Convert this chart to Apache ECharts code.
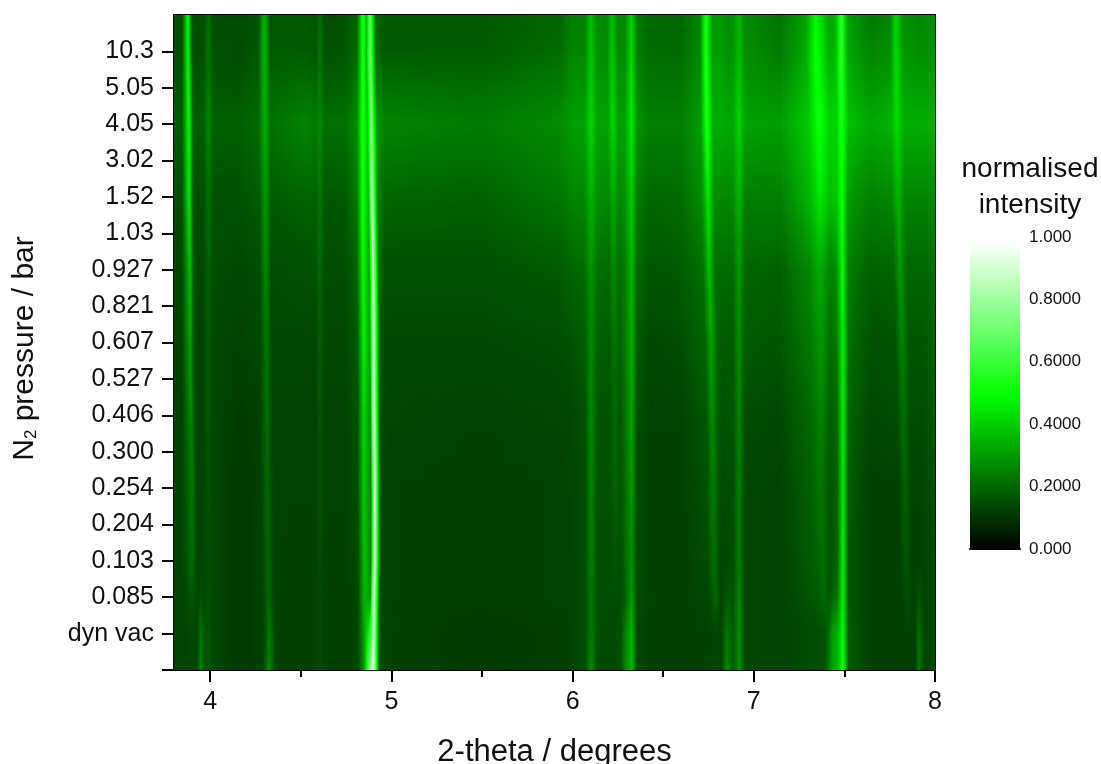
<!DOCTYPE html>
<html><head><meta charset="utf-8">
<style>html,body{margin:0;padding:0;background:#fff}#c{width:1101px;height:764px}</style>
<script src="https://cdn.jsdelivr.net/npm/echarts@6/dist/echarts.min.js"></script>
</head><body><div id="c"></div>
<script>
// Pressure tick labels, bottom to top (first tick is unlabelled)
const pressureLabels = ['', 'dyn vac', '0.085', '0.103', '0.204', '0.254', '0.300', '0.406', '0.527', '0.607', '0.821', '0.927', '1.03', '1.52', '3.02', '4.05', '5.05', '10.3'];
const xMajorTicks = [4, 5, 6, 7, 8];
const xMinorTicks = [4.5, 5.5, 6.5, 7.5];
// Measured rows: position on pressure axis, top to bottom
const rowLevels = [18, 17, 15, 13, 11, 9, 7, 5, 3, 2, 1, 0];
// 2-theta of each profile knot in the top row
const knotTheta = [3.800,3.844,3.877,3.899,3.930,3.948,3.966,3.990,4.015,4.164,
 4.264,4.297,4.330,4.534,4.584,4.606,4.628,4.744,
 4.810,4.843,4.865,4.884,4.915,4.964,
 5.489,5.930,5.996,6.068,6.101,6.134,6.190,6.217,6.250,6.289,6.325,6.355,6.427,6.593,
 6.703,6.736,6.769,6.825,6.852,6.885,6.918,6.951,7.144,
 7.288,7.343,7.415,7.437,7.453,7.484,7.514,7.641,
 7.751,7.784,7.823,7.911,7.944,8.000];
// Peak drift in 2-theta per measured row
const driftA = [0,0,.005,.006,.011,.011,.017,.022,.024,.024,.024,.024];
const driftB = [0,0,.003,.006,.008,.011,.014,.017,.022,.025,.028,.028];
const driftC = [0,0,0,0,0,.003,.003,.003,.006,.006,.006,.006];
const driftD = [-.003,-.003,.003,.008,.014,.017,.019,.022,.022,.019,.017,.017];
const driftE = [0,0,.003,.006,.008,.011,.014,.017,.017,.017,.017,.017];
const driftF = [0,0,.005,.011,.017,.028,.033,.039,.044,.05,.055,.055];
const driftG = [0,0,.017,.022,.022,.028,.028,.028,.039,.044,.05,.05];
const driftH = [0,0,.003,.003,.005,.008,.008,.008,.008,.008,.008,.008];
const driftI = [0,0,.005,.011,.022,.033,.039,.05,.055,.061,.066,.066];
const driftKnots = [[driftA,[2,3]],[driftB,[10,11,12]],[driftC,[18,19]],[driftD,[20,21,22]],[driftE,[30,31,32]],[driftF,[38,39,40]],[driftG,[47,48]],[driftH,[51,52,53]],[driftI,[55,56,57]]];
// Intensity (percent of scale) at each knot, one list per measured row
const row18 = [15,15,50,16,15,15,15,22,15,15, 16,36,17,17,16,22,15,16, 20,56,36,72,20,17, 17,20,25,26,38,27,27,38,26,27,42,24,20,20, 26,55,30,30,28,28,36,27,23, 32,50,32,33,36,60,32,24, 26,42,28,26,27,28];
const row17 = [15,15,50,17,15,15,16,23,16,15, 17,36,18,18,17,23,16,17, 21,56,36,74,22,18, 18,21,26,27,39,28,28,39,27,28,43,25,21,21, 27,56,31,31,29,29,37,28,24, 34,52,34,35,38,60,33,26, 28,43,30,28,28,29];
const row15 = [18,18,50,20,18,19,20,27,19,19, 21,34,22,26,24,27,22,22, 28,56,38,78,30,26, 24,28,31,32,42,32,32,42,31,32,46,29,25,25, 31,56,34,34,33,33,42,32,31, 40,53,42,42,42,56,38,33, 35,44,34,34,34,35];
const row13 = [15,15,46,17,15,15,16,22,16,16, 18,30,18,20,19,24,17,18, 24,54,34,88,26,20, 19,23,26,27,36,28,27,34,26,29,40,25,20,21, 28,46,28,27,27,27,36,25,25, 36,46,38,38,40,52,31,25, 27,36,26,26,26,27];
const row11 = [14,14,38,16,14,14,15,19,15,14, 15,27,15,16,16,20,15,15, 20,50,32,92,22,16, 16,18,20,21,30,22,21,27,21,25,36,21,17,18, 22,38,22,21,21,21,30,20,19, 27,34,26,26,30,50,25,19, 20,30,20,20,20,22];
const row9  = [13,13,32,15,13,13,14,18,14,13, 14,24,14,14,14,18,14,14, 18,48,30,95,20,14, 14,15,16,18,27,19,18,23,19,24,34,18,14,15, 20,32,20,18,18,18,28,18,17, 24,30,22,22,26,48,22,16, 17,26,17,17,17,20];
const row7  = [13,13,27,14,13,13,14,17,14,12, 13,22,13,13,13,17,13,13, 16,42,28,97,18,13.5, 13,13.5,14,16,27,17,17,20,17,22,32,16,13,13, 17,28,18,16,16,16,26,15,14, 21,26,19,19,22,47,20,14, 15,22,15,15,15,18];
const row5  = [13,13,24,14,13,13,14,16,14,11.5, 13,20,13,13,13,16,13,13, 15,40,26,98,17,13, 12.5,13,13.5,15,26,16,16,19,16,21,30,15,12.5,12.5, 16,25,16,15,15,15,25,14,13, 19,23,17,17,20,46,18,12.5, 13,19,13,13,14,16];
const row3  = [13,13,21,14,13,13,14,15,14,11.5, 13,20,13,12.5,13,15,13,12.5, 15,38,26,98,16,13, 12.5,13,13,15,25,15,15,17,15,20,28,15,12.5,12.5, 15,22,14,14,14,15,25,14,13, 18,22,16,17,20,47,17,12.5, 12.5,17,12.5,12.5,13,15];
const row2  = [13,13,17,14,13.5,16,14,16,14,11.5, 13,20,13,12.5,13,14,13,12.5, 14,36,30,98,16,13, 12.5,13,13,15,24,15,15,15,15,18,30,15,13,12.5, 14,20,13,14,17,16,26,14,13, 17,20,17,20,24,47,17,12.5, 12.5,15,12.5,16,13,15];
const row1  = [13,13,14,13.5,15,23,16,17,14,11.5, 13,24,13,12.5,13,14,13,12.5, 14,32,55,95,17,13, 12,12.5,13,15,24,15,14.5,14.5,16,25,36,14,12.5,12.5, 13,13.5,13,15,24,17,28,14,13, 15,16,22,32,35,50,18,12.5, 12.5,13,12.5,22,13,15];
const row0  = [13,13,13,14,16,26,16,17,14,11.5, 13,27,13,12.5,13,14,13,12.5, 14,30,80,95,17,13, 12,12.5,13,15,27,14,14,14,16,26,36,14,12.5,12.5, 13,13,13,15,27,17,28,14,13, 15,16,24,33,35,52,18,12.5, 12.5,13,12.5,24,13,15];
const intensityRows = [row18,row17,row15,row13,row11,row9,row7,row5,row3,row2,row1,row0];
// Colour scale stops (value, colour)
const scaleValues = [0, 0.5, 1];
const scaleColors = ['#000000', '#00ff00', '#ffffff'];
const barTicks = [0, 0.2, 0.4, 0.6, 0.8, 1];

function hex(c){return [1,3,5].map(i=>parseInt(c.substr(i,2),16));}
function colorOf(v){
  v=Math.max(0,Math.min(1,v));
  const k=v<scaleValues[1]?0:1;
  const t=(v-scaleValues[k])/(scaleValues[k+1]-scaleValues[k]);
  const a=hex(scaleColors[k]),b=hex(scaleColors[k+1]);
  return 'rgb('+a.map((x,i)=>Math.round(x+(b[i]-x)*t)).join(',')+')';
}
const rowThetas = rowLevels.map((_,r)=>{
  const t=knotTheta.slice();
  driftKnots.forEach(([d,ks])=>ks.forEach(k=>{t[k]+=d[r];}));
  return t;
});
const FONT='"Liberation Sans", Arial, sans-serif';
const xMin=3.8,xMax=8,yMin=0,yMax=18;

function renderBand(params,api){
  const r=api.value(0);
  const top=api.coord([xMin,rowLevels[r]]), bot=api.coord([xMin,rowLevels[r+1]]);
  const right=api.coord([xMax,rowLevels[r]])[0];
  const x0=top[0], w=right-x0, h=bot[1]-top[1];
  const n=Math.max(1,Math.round(h/2));
  const kids=[];
  for(let s=0;s<n;s++){
    const f=(s+0.5)/n, stops=[];
    let pOff=null,pVal=null;
    for(let k=0;k<knotTheta.length;k++){
      const th=rowThetas[r][k]+(rowThetas[r+1][k]-rowThetas[r][k])*f;
      const val=(intensityRows[r][k]+(intensityRows[r+1][k]-intensityRows[r][k])*f)/100;
      const off=Math.max(0,Math.min(1,(api.coord([th,0])[0]-x0)/w));
      if(pVal!==null&&(pVal-.5)*(val-.5)<0){
        const q=(.5-pVal)/(val-pVal);
        stops.push({offset:pOff+(off-pOff)*q,color:colorOf(.5)});
      }
      stops.push({offset:off,color:colorOf(val)});
      pOff=off;pVal=val;
    }
    const y0=Math.round(top[1]+h*s/n), y1=Math.round(top[1]+h*(s+1)/n);
    kids.push({type:'rect',shape:{x:x0,y:y0,width:w,height:y1-y0},
      style:{fill:new echarts.graphic.LinearGradient(0,0,1,0,stops)}});
  }
  return {type:'group',children:kids};
}
function renderBar(params,api){
  const a=api.coord([0,0]), b=api.coord([1,api.value(0)]);
  return {type:'rect',shape:{x:a[0],y:b[1],width:b[0]-a[0],height:a[1]-b[1]},
    style:{fill:new echarts.graphic.LinearGradient(0,1,0,0,
      scaleValues.map((v,i)=>({offset:v,color:scaleColors[i]})))}};
}
const plot={left:174,top:15,width:761,height:655,outerBoundsMode:'none'};
const lineStyle={color:'#000',width:2};
const chart=echarts.init(document.getElementById('c'),null,{renderer:'canvas'});
chart.setOption({
  animation:false,backgroundColor:'#fff',
  title:{text:'normalised\nintensity',left:1025,top:146,textAlign:'center',
    textStyle:{fontFamily:FONT,fontSize:28,fontWeight:'normal',color:'#111',lineHeight:36}},
  grid:[Object.assign({},plot),Object.assign({},plot),{left:970,top:237,width:50,height:312,outerBoundsMode:'none'}],
  xAxis:[
    {gridIndex:0,type:'value',position:'bottom',min:xMin,max:xMax,splitLine:{show:false},
     axisLine:{show:true,onZero:false,lineStyle},
     axisTick:{show:true,length:12,lineStyle,customValues:xMajorTicks},
     axisLabel:{fontFamily:FONT,fontSize:25,color:'#111',margin:20,customValues:xMajorTicks,formatter:v=>String(v)},
     name:'2-theta / degrees',nameLocation:'middle',nameGap:67,
     nameTextStyle:{fontFamily:FONT,fontSize:31,color:'#111'}},
    {gridIndex:0,type:'value',position:'top',min:xMin,max:xMax,splitLine:{show:false},
     axisLine:{show:true,onZero:false,lineStyle},axisTick:{show:false},axisLabel:{show:false}},
    {gridIndex:1,type:'value',position:'bottom',min:xMin,max:xMax,splitLine:{show:false},
     axisLine:{show:false},axisTick:{show:true,length:7,lineStyle,customValues:xMinorTicks},
     axisLabel:{show:false}},
    {gridIndex:2,type:'value',min:0,max:1,show:true,splitLine:{show:false},
     axisLine:{show:true,onZero:false,lineStyle:{color:'#000',width:2}},axisTick:{show:false},axisLabel:{show:false}}
  ],
  yAxis:[
    {gridIndex:0,type:'value',position:'left',min:yMin,max:yMax,interval:1,splitLine:{show:false},
     axisLine:{show:true,onZero:false,lineStyle},
     axisTick:{show:true,length:12,lineStyle,customValues:pressureLabels.map((_,i)=>i)},
     axisLabel:{fontFamily:FONT,fontSize:25,color:'#111',margin:20,
       customValues:pressureLabels.map((_,i)=>i),formatter:v=>pressureLabels[v]||''},
     name:'{n|N}{s|2}{n| pressure / bar}',nameLocation:'middle',nameGap:134,
     nameTextStyle:{padding:[0,12,0,0],rich:{n:{fontFamily:FONT,fontSize:30,color:'#111'},s:{fontFamily:FONT,fontSize:17,color:'#111',verticalAlign:'bottom',padding:[14,0,0,0]}}}},
    {gridIndex:0,type:'value',position:'right',min:yMin,max:yMax,splitLine:{show:false},
     axisLine:{show:true,onZero:false,lineStyle},axisTick:{show:false},axisLabel:{show:false}},
    {gridIndex:1,type:'value',min:yMin,max:yMax,show:false},
    {gridIndex:2,type:'value',position:'right',min:0,max:1,interval:0.2,splitLine:{show:false},
     axisLine:{show:false},axisTick:{show:false},
     axisLabel:{fontFamily:FONT,fontSize:17,color:'#111',margin:9,
       customValues:barTicks,formatter:v=>(v===0||v===1)?v.toFixed(3):v.toFixed(4)}}
  ],
  series:[
    {type:'custom',name:'normalised intensity',xAxisIndex:0,yAxisIndex:0,clip:true,silent:true,
     renderItem:renderBand,data:rowLevels.slice(0,-1).map((_,r)=>[r])},
    {type:'custom',name:'colour scale',xAxisIndex:3,yAxisIndex:3,silent:true,
     renderItem:renderBar,data:[[0.985]]}
  ]
});
</script></body></html>
